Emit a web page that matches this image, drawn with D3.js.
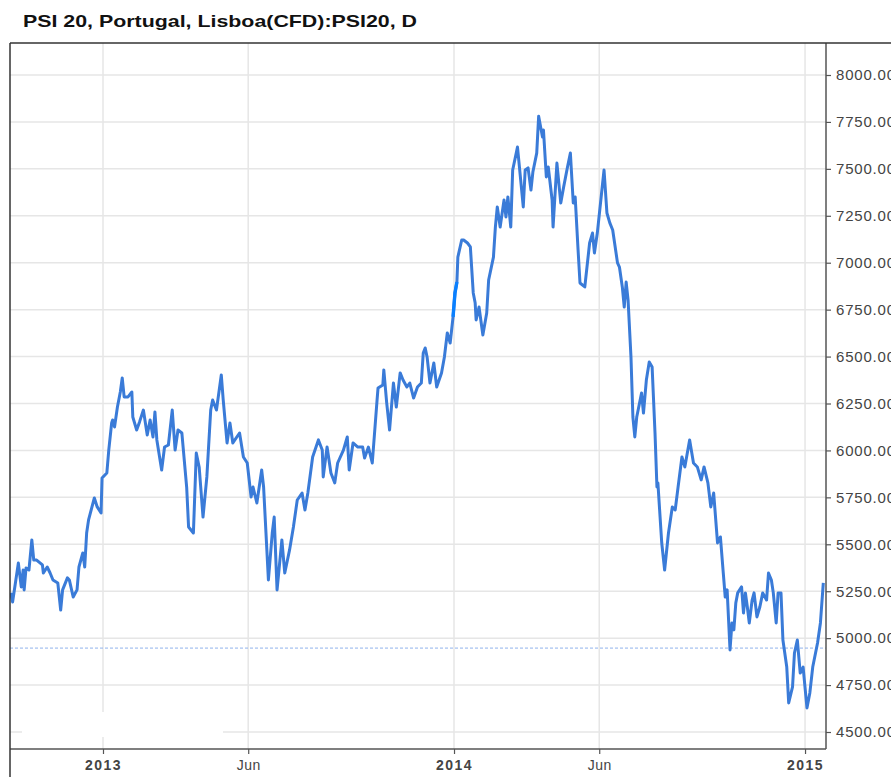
<!DOCTYPE html>
<html>
<head>
<meta charset="utf-8">
<script src="https://cdn.jsdelivr.net/npm/d3@7"></script>
<style>
body { margin: 0; background: #fff; }
svg { display: block; font-family: "Liberation Sans", Arial, sans-serif; }
</style>
</head>
<body>
<svg id="chart" width="891" height="777"></svg>
<script>
// ---------------- data ----------------
var title = "PSI 20, Portugal, Lisboa(CFD):PSI20, D";

var dates = [
  "2012-09-27","2012-09-29","2012-10-05","2012-10-08","2012-10-10","2012-10-11","2012-10-13","2012-10-16",
  "2012-10-19","2012-10-21","2012-10-24","2012-10-30","2012-10-31","2012-11-04","2012-11-07","2012-11-10",
  "2012-11-15","2012-11-18","2012-11-20","2012-11-25","2012-11-27","2012-12-01","2012-12-05","2012-12-07",
  "2012-12-11","2012-12-13","2012-12-15","2012-12-17","2012-12-23","2012-12-26","2012-12-30","2012-12-31",
  "2013-01-05","2013-01-07","2013-01-10","2013-01-11","2013-01-13","2013-01-16","2013-01-19","2013-01-21",
  "2013-01-23","2013-01-27","2013-01-31","2013-02-01","2013-02-05","2013-02-08","2013-02-12","2013-02-16",
  "2013-02-19","2013-02-22","2013-02-24","2013-02-26","2013-03-03","2013-03-06","2013-03-10","2013-03-14",
  "2013-03-17","2013-03-20","2013-03-24","2013-03-29","2013-03-31","2013-04-05","2013-04-08","2013-04-11",
  "2013-04-15","2013-04-19","2013-04-23","2013-04-25","2013-04-29","2013-05-04","2013-05-06","2013-05-10",
  "2013-05-13","2013-05-16","2013-05-23","2013-05-27","2013-05-31","2013-06-04","2013-06-06","2013-06-10",
  "2013-06-15","2013-06-17","2013-06-22","2013-06-26","2013-06-28","2013-07-01","2013-07-06","2013-07-09",
  "2013-07-14","2013-07-18","2013-07-22","2013-07-27","2013-07-30","2013-08-02","2013-08-07","2013-08-13",
  "2013-08-17","2013-08-18","2013-08-22","2013-08-26","2013-08-30","2013-09-02","2013-09-08","2013-09-12",
  "2013-09-14","2013-09-18","2013-09-23","2013-09-28","2013-09-30","2013-10-04","2013-10-08","2013-10-13",
  "2013-10-14","2013-10-19","2013-10-20","2013-10-23","2013-10-26","2013-10-30","2013-11-02","2013-11-06",
  "2013-11-09","2013-11-13","2013-11-16","2013-11-20","2013-11-24","2013-11-28","2013-11-30","2013-12-02",
  "2013-12-04","2013-12-07","2013-12-11","2013-12-14","2013-12-19","2013-12-22","2013-12-25","2013-12-28",
  "2013-12-31","2014-01-02","2014-01-04","2014-01-05","2014-01-09","2014-01-11","2014-01-15","2014-01-18",
  "2014-01-21","2014-01-23","2014-01-24","2014-01-27","2014-01-31","2014-02-04","2014-02-06","2014-02-11",
  "2014-02-13","2014-02-15","2014-02-18","2014-02-22","2014-02-24","2014-02-26","2014-03-01","2014-03-03",
  "2014-03-08","2014-03-10","2014-03-14","2014-03-16","2014-03-19","2014-03-22","2014-03-24","2014-03-28",
  "2014-03-30","2014-04-03","2014-04-04","2014-04-07","2014-04-09","2014-04-13","2014-04-14","2014-04-18",
  "2014-04-22","2014-04-25","2014-04-29","2014-05-02","2014-05-05","2014-05-07","2014-05-10","2014-05-12",
  "2014-05-17","2014-05-22","2014-05-25","2014-05-27","2014-05-30","2014-06-03","2014-06-06","2014-06-09",
  "2014-06-12","2014-06-15","2014-06-20","2014-06-22","2014-06-25","2014-06-27","2014-06-29","2014-07-01",
  "2014-07-04","2014-07-06","2014-07-08","2014-07-10","2014-07-15","2014-07-17","2014-07-20","2014-07-23",
  "2014-07-26","2014-07-29","2014-07-31","2014-08-01","2014-08-05","2014-08-08","2014-08-12","2014-08-16",
  "2014-08-19","2014-08-22","2014-08-26","2014-08-29","2014-09-03","2014-09-07","2014-09-11","2014-09-15",
  "2014-09-18","2014-09-22","2014-09-25","2014-09-28","2014-10-02","2014-10-05","2014-10-08","2014-10-10",
  "2014-10-12","2014-10-15","2014-10-17","2014-10-19","2014-10-21","2014-10-23","2014-10-27","2014-10-29",
  "2014-10-31","2014-11-02","2014-11-04","2014-11-07","2014-11-09","2014-11-12","2014-11-15","2014-11-18",
  "2014-11-22","2014-11-24","2014-11-27","2014-11-29","2014-12-02","2014-12-04","2014-12-07","2014-12-09",
  "2014-12-13","2014-12-15","2014-12-19","2014-12-21","2014-12-24","2014-12-27","2014-12-30","2015-01-03",
  "2015-01-06","2015-01-09","2015-01-14","2015-01-17","2015-01-20"
];

var closes = [
  5241,5193,5400,5273,5363,5257,5374,5363,
  5523,5416,5416,5390,5347,5379,5347,5310,
  5294,5150,5257,5321,5310,5219,5257,5379,
  5454,5379,5560,5630,5747,5699,5667,5853,
  5880,6002,6146,6162,6125,6231,6311,6386,
  6285,6285,6311,6178,6109,6152,6215,6082,
  6162,6072,6205,6056,5896,6018,6029,6215,
  6002,6109,6093,5805,5592,5560,5986,5912,
  5645,5859,6215,6269,6215,6402,6269,6040,
  6146,6040,6093,5965,5933,5752,5805,5720,
  5896,5805,5310,5560,5645,5257,5523,5347,
  5470,5592,5736,5773,5683,5773,5965,6056,
  6002,5859,6018,5880,5827,5933,6002,6072,
  5896,6040,6018,6018,5960,6018,5933,6269,
  6333,6349,6429,6253,6109,6359,6231,6413,
  6375,6338,6359,6279,6338,6359,6519,6546,
  6498,6359,6466,6338,6413,6498,6626,6572,
  6711,6839,6897,7030,7121,7121,7105,7084,
  6839,6785,6695,6764,6615,6732,6908,7030,
  7190,7297,7190,7334,7244,7350,7190,7494,
  7616,7510,7297,7494,7505,7387,7483,7584,
  7780,7670,7707,7457,7510,7334,7190,7531,
  7318,7403,7510,7584,7318,7350,7068,6892,
  6871,7105,7158,7052,7158,7350,7494,7265,
  7212,7174,6999,6977,6871,6764,6897,6801,
  6498,6178,6072,6178,6306,6199,6375,6471,
  6444,6093,5805,5827,5507,5363,5560,5699,
  5683,5805,5965,5912,6056,5933,5912,5843,
  5912,5827,5699,5773,5507,5539,5347,5219,
  5257,4937,5081,5044,5187,5241,5273,5134,
  5241,5166,5081,5203,5241,5113,5166,5241,
  5203,5347,5310,5241,5081,5241,5241,4990,
  4846,4655,4740,4921,4990,4814,4846,4628,
  4708,4846,4974,5081,5294
];

// stretch of the line drawn in the brighter blue
var hiliteFrom = "2013-12-31";
var hiliteTo = "2014-01-04";

// thin dashed level line
var refLevel = 4947;

var yTicks = [4500, 4750, 5000, 5250, 5500, 5750, 6000, 6250, 6500, 6750, 7000, 7250, 7500, 7750, 8000];
var xTickDates = ["2013-01-01", "2013-06-01", "2014-01-01", "2014-06-01", "2015-01-01"];
var xTickLabels = ["2013", "Jun", "2014", "Jun", "2015"];
var xTickBold = [true, false, true, false, true];

// ---------------- layout ----------------
var plotLeft = 10, plotRight = 826, plotTop = 43, plotBottom = 749;

var parse = d3.utcParse("%Y-%m-%d");
var data = dates.map(function(d, i) {
  return { date: parse(d), close: closes[i] };
});

var jan2013 = parse("2013-01-01").getTime();
var dayMs = 864e5;

var x = d3.scaleUtc()
  .domain([new Date(jan2013 - 96.7 * dayMs), new Date(jan2013 + 751.8 * dayMs)])
  .range([plotLeft, plotRight]);

var y = d3.scaleLinear()
  .domain([4500, 8000])
  .range([732, 75]);

var svg = d3.select("#chart");

svg.append("rect")
  .attr("width", 891).attr("height", 777)
  .attr("fill", "#fff");

// clip for everything inside the plot
svg.append("clipPath").attr("id", "plotclip")
  .append("rect")
  .attr("x", plotLeft).attr("y", plotTop)
  .attr("width", plotRight - plotLeft).attr("height", plotBottom - plotTop);

var grid = svg.append("g").attr("clip-path", "url(#plotclip)");

// horizontal grid
grid.selectAll(".hgrid")
  .data(yTicks)
  .enter().append("line")
  .attr("class", "hgrid")
  .attr("x1", plotLeft).attr("x2", plotRight)
  .attr("y1", function(d) { return y(d); })
  .attr("y2", function(d) { return y(d); })
  .attr("stroke", "#e6e6e6")
  .attr("stroke-width", 1.5);

// vertical grid
grid.selectAll(".vgrid")
  .data(xTickDates)
  .enter().append("line")
  .attr("class", "vgrid")
  .attr("x1", function(d) { return x(parse(d)); })
  .attr("x2", function(d) { return x(parse(d)); })
  .attr("y1", plotTop).attr("y2", plotBottom)
  .attr("stroke", "#e6e6e6")
  .attr("stroke-width", 1.5);

// blank box bottom-left (hides the grid there)
grid.append("rect")
  .attr("x", 22).attr("y", 712)
  .attr("width", 201).attr("height", 25)
  .attr("fill", "#fff");

// dashed level
grid.append("line")
  .attr("x1", plotLeft).attr("x2", plotRight)
  .attr("y1", y(refLevel)).attr("y2", y(refLevel))
  .attr("stroke", "#8fb2ec")
  .attr("stroke-width", 1)
  .attr("stroke-dasharray", "3,2");

// price line
var line = d3.line()
  .x(function(d) { return x(d.date); })
  .y(function(d) { return y(d.close); });

grid.append("path")
  .datum(data)
  .attr("d", line)
  .attr("fill", "none")
  .attr("stroke", "#3a7bd8")
  .attr("stroke-width", 3)
  .attr("stroke-linejoin", "round");

var hFrom = parse(hiliteFrom), hTo = parse(hiliteTo);
grid.append("path")
  .datum(data.filter(function(d) { return d.date >= hFrom && d.date <= hTo; }))
  .attr("d", line)
  .attr("fill", "none")
  .attr("stroke", "#0a80ff")
  .attr("stroke-width", 3.4)
  .attr("stroke-linecap", "butt");

// ---------------- axes ----------------
var yAxis = svg.append("g")
  .attr("transform", "translate(" + plotRight + ",0)")
  .call(d3.axisRight(y)
    .tickValues(yTicks)
    .tickFormat(d3.format(".2f"))
    .tickSize(5)
    .tickPadding(5));
yAxis.select(".domain").remove();
yAxis.selectAll("line").attr("stroke", "#555").attr("stroke-width", 1.2);
yAxis.selectAll("text")
  .attr("fill", "#444")
  .style("font-size", "15px")
  .style("letter-spacing", "0.8px")
  .style("font-family", "\"Liberation Sans\", Arial, sans-serif");

var xAxis = svg.append("g")
  .attr("transform", "translate(0," + plotBottom + ")")
  .call(d3.axisBottom(x)
    .tickValues(xTickDates.map(parse))
    .tickFormat(function(d, i) { return xTickLabels[i]; })
    .tickSize(5)
    .tickPadding(6));
xAxis.select(".domain").remove();
xAxis.selectAll("line").attr("stroke", "#555").attr("stroke-width", 1.2);
xAxis.selectAll("text")
  .attr("fill", "#444")
  .style("font-size", "14px")
  .style("letter-spacing", function(d, i) { return xTickBold[i] ? "1.5px" : "0.5px"; })
  .style("font-family", "\"Liberation Sans\", Arial, sans-serif")
  .style("font-weight", function(d, i) { return xTickBold[i] ? "bold" : "normal"; });

// frame lines
svg.append("line")
  .attr("x1", plotRight).attr("x2", plotRight)
  .attr("y1", plotTop).attr("y2", plotBottom)
  .attr("stroke", "#555").attr("stroke-width", 1.5);
svg.append("line")
  .attr("x1", plotLeft).attr("x2", plotRight)
  .attr("y1", plotBottom).attr("y2", plotBottom)
  .attr("stroke", "#555").attr("stroke-width", 1.5);
svg.append("line")
  .attr("x1", plotLeft).attr("x2", 891)
  .attr("y1", plotTop).attr("y2", plotTop)
  .attr("stroke", "#333").attr("stroke-width", 1.5);
svg.append("line")
  .attr("x1", plotLeft).attr("x2", plotLeft)
  .attr("y1", plotTop).attr("y2", 777)
  .attr("stroke", "#333").attr("stroke-width", 1.5);

// title
svg.append("text")
  .attr("x", 23).attr("y", 27)
  .attr("fill", "#111")
  .attr("textLength", 394)
  .attr("lengthAdjust", "spacingAndGlyphs")
  .style("font-size", "17px")
  .style("font-weight", "bold")
  .text(title);
</script>
</body>
</html>
